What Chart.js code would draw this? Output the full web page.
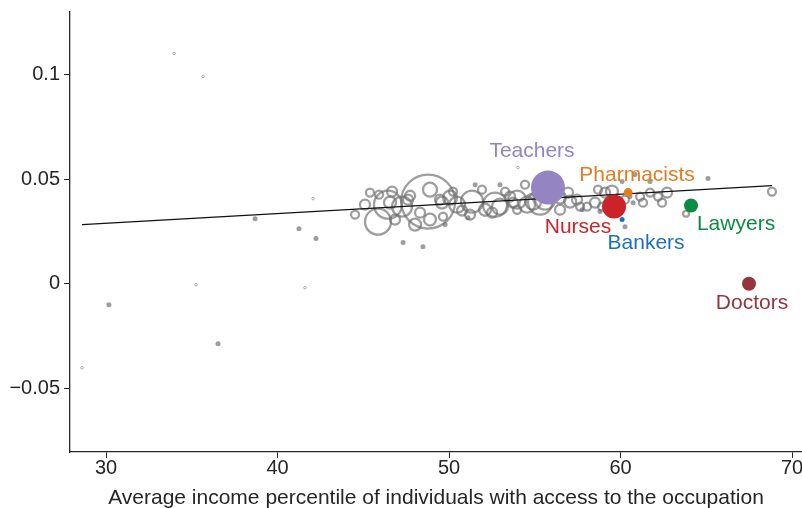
<!DOCTYPE html>
<html>
<head>
<meta charset="utf-8">
<script src="https://cdn.jsdelivr.net/npm/chart.js@4.4.1/dist/chart.umd.min.js"></script>
<style>
  html, body { margin: 0; padding: 0; background: #fff; }
  #wrap { width: 802px; height: 508px; }
</style>
</head>
<body>
<div id="wrap"><canvas id="chart" width="802" height="508"></canvas></div>
<script>
// highlighted occupations
const occNames = ['Teachers', 'Pharmacists', 'Nurses', 'Bankers', 'Lawyers', 'Doctors'];
const occX = [55.77, 60.44, 59.62, 60.09, 64.11, 67.49];
const occY = [0.046, 0.0436, 0.0369, 0.0307, 0.0374, 0.0];
const occW = [17, 4.5, 12, 2.5, 7, 7];

// other occupations (hollow, weighted)
const hollowX = [45.39, 45.92, 46.68, 44.52, 45.86, 46.44, 46.56, 47.26, 48.78, 48.31,
  48.89, 48.89, 49.65, 50.06, 50.23, 51.34, 51.92, 52.68, 52.51, 53.27,
  53.56, 53.97, 54.43, 53.73, 54.90, 55.31, 56.94, 57.46, 57.64, 58.05,
  58.51, 58.92, 59.50, 59.50, 59.10, 61.14, 61.31, 61.72, 62.19, 62.71,
  68.83, 63.82, 50.47, 50.76, 52.10, 52.97, 55.19, 55.60, 56.47, 49.48,
  47.73, 45.10, 46.85, 48.02, 51.22, 53.97, 56.47, 60.26, 62.42, 58.69,
  47.61, 49.59, 54.55, 57.06];
const hollowY = [0.0436, 0.0426, 0.0441, 0.0331, 0.0297, 0.0378, 0.0388, 0.0369, 0.0393, 0.0340,
  0.0450, 0.0307, 0.0321, 0.0412, 0.0441, 0.0393, 0.0450, 0.0378, 0.0340, 0.0441,
  0.0417, 0.0402, 0.0474, 0.0388, 0.0393, 0.0388, 0.0436, 0.0402, 0.0369, 0.0369,
  0.0388, 0.0369, 0.0441, 0.0402, 0.0436, 0.0417, 0.0388, 0.0436, 0.0417, 0.0436,
  0.0441, 0.0335, 0.0378, 0.0350, 0.0354, 0.0369, 0.0426, 0.0402, 0.0412, 0.0402,
  0.0421, 0.0378, 0.0307, 0.0283, 0.0331, 0.0354, 0.0354, 0.0402, 0.0388, 0.0450,
  0.0402, 0.0388, 0.0378, 0.0393];
const hollowW = [4, 4, 5, 4, 13, 14, 6, 10, 27, 5,
  7, 6, 4, 7, 4, 11, 4, 12, 5, 4,
  5, 9, 4, 5, 8, 12, 5, 5, 4, 4,
  5, 4, 6, 4, 5, 4, 4, 4, 4, 5,
  4, 3, 8, 5, 6, 8, 5, 10, 6, 5,
  5, 5, 5, 6, 5, 4, 5, 4, 4, 4,
  5, 6, 8, 6];

// small occupations (filled dots)
const dotX = [30.17, 36.53, 38.69, 41.25, 42.24, 47.32, 48.48, 65.10, 60.26, 60.09,
  60.73, 60.85, 60.55, 57.76, 51.52, 52.97, 51.11, 49.77, 58.80, 61.72];
const dotY = [-0.0101, -0.0287, 0.0311, 0.0263, 0.0216, 0.0197, 0.0177, 0.0503, 0.0273, 0.0489,
  0.0388, 0.0522, 0.0417, 0.0354, 0.0474, 0.0474, 0.0316, 0.0283, 0.0345, 0.0489];

// tiny occupations
const tinyX = [33.97, 35.66, 28.60, 35.25, 41.60, 42.07, 54.02];
const tinyY = [0.1102, 0.0992, -0.0402, -0.0005, -0.0019, 0.0407, 0.0556];

// fitted line
const fitX = [28.6, 68.83];
const fitY = [0.0283, 0.0469];

const yTicks = [-0.05, 0, 0.05, 0.1];
const xTicks = [30, 40, 50, 60, 70];

const occColors = ['#9584c2', '#e47d1f', '#cc2229', '#1e6fbb', '#0b8b45', '#96343e'];
const labelOffsets = [[-16, -36], [9, -17], [-36, 21], [24, 24], [45, 19], [3, 19]];

const FONT = '"Liberation Sans", Arial, Helvetica, sans-serif';
const INK = '#262626';
const GRAY = 'rgba(112,112,112,0.68)';

const labelPlugin = {
  id: 'occLabels',
  afterDatasetsDraw(chart) {
    const { ctx, scales: { x, y } } = chart;
    ctx.save();
    ctx.font = '21px ' + FONT;
    ctx.textAlign = 'center';
    ctx.textBaseline = 'middle';
    occNames.forEach((n, i) => {
      ctx.fillStyle = occColors[i];
      ctx.fillText(n, x.getPixelForValue(occX[i]) + labelOffsets[i][0],
        y.getPixelForValue(occY[i]) + labelOffsets[i][1]);
    });
    ctx.restore();
  }
};

const occSets = occNames.map((n, i) => ({
  type: 'bubble',
  label: n,
  data: [{ x: occX[i], y: occY[i], r: occW[i] }],
  backgroundColor: occColors[i],
  borderColor: occColors[i],
  borderWidth: 0
}));

new Chart(document.getElementById('chart'), {
  type: 'bubble',
  data: {
    datasets: [
      ...occSets,
      {
        type: 'line',
        label: 'fit',
        data: fitX.map((v, i) => ({ x: v, y: fitY[i] })),
        borderColor: '#111',
        borderWidth: 1.2,
        pointRadius: 0,
        fill: false
      },
      {
        label: 'other',
        data: hollowX.map((v, i) => ({ x: v, y: hollowY[i], r: hollowW[i] })),
        backgroundColor: 'rgba(0,0,0,0)',
        borderColor: GRAY,
        borderWidth: 2.3
      },
      {
        label: 'small',
        data: dotX.map((v, i) => ({ x: v, y: dotY[i], r: 2.5 })),
        backgroundColor: 'rgba(140,140,140,0.85)',
        borderWidth: 0
      },
      {
        label: 'tiny',
        data: tinyX.map((v, i) => ({ x: v, y: tinyY[i], r: 1.3 })),
        backgroundColor: 'rgba(0,0,0,0)',
        borderColor: 'rgba(130,130,130,0.8)',
        borderWidth: 0.8
      }
    ]
  },
  options: {
    responsive: false,
    devicePixelRatio: 1,
    animation: false,
    layout: { autoPadding: false, padding: { top: 12, right: 0, left: 0, bottom: 0 } },
    plugins: { legend: { display: false }, tooltip: { enabled: false } },
    scales: {
      x: {
        type: 'linear',
        min: 27.9,
        max: 70.58,
        afterBuildTicks: s => { s.ticks = xTicks.map(v => ({ value: v })); },
        afterFit: s => { s.height = 56; s.paddingLeft = 0; s.paddingRight = 0; },
        grid: { display: true, drawOnChartArea: false, drawTicks: true, tickLength: 6, color: INK, lineWidth: 1 },
        border: { display: true, color: INK, width: 1.3 },
        ticks: { color: INK, font: { family: FONT, size: 20 }, padding: -2, maxRotation: 0 },
        title: { display: true, text: 'Average income percentile of individuals with access to the occupation',
          color: INK, font: { family: FONT, size: 21 }, padding: { top: 0, bottom: -3 } }
      },
      y: {
        type: 'linear',
        min: -0.0805,
        max: 0.130,
        afterBuildTicks: s => { s.ticks = yTicks.map(v => ({ value: v })); },
        afterFit: s => { s.width = 70; s.paddingTop = 0; s.paddingBottom = 0; },
        grid: { display: true, drawOnChartArea: false, drawTicks: true, tickLength: 6, color: INK, lineWidth: 1 },
        border: { display: true, color: INK, width: 1.3 },
        ticks: {
          color: INK, font: { family: FONT, size: 20 }, padding: 4,
          callback: v => (v < 0 ? '\u2212' + String(-v) : String(v))
        }
      }
    }
  },
  plugins: [labelPlugin]
});
</script>
</body>
</html>
